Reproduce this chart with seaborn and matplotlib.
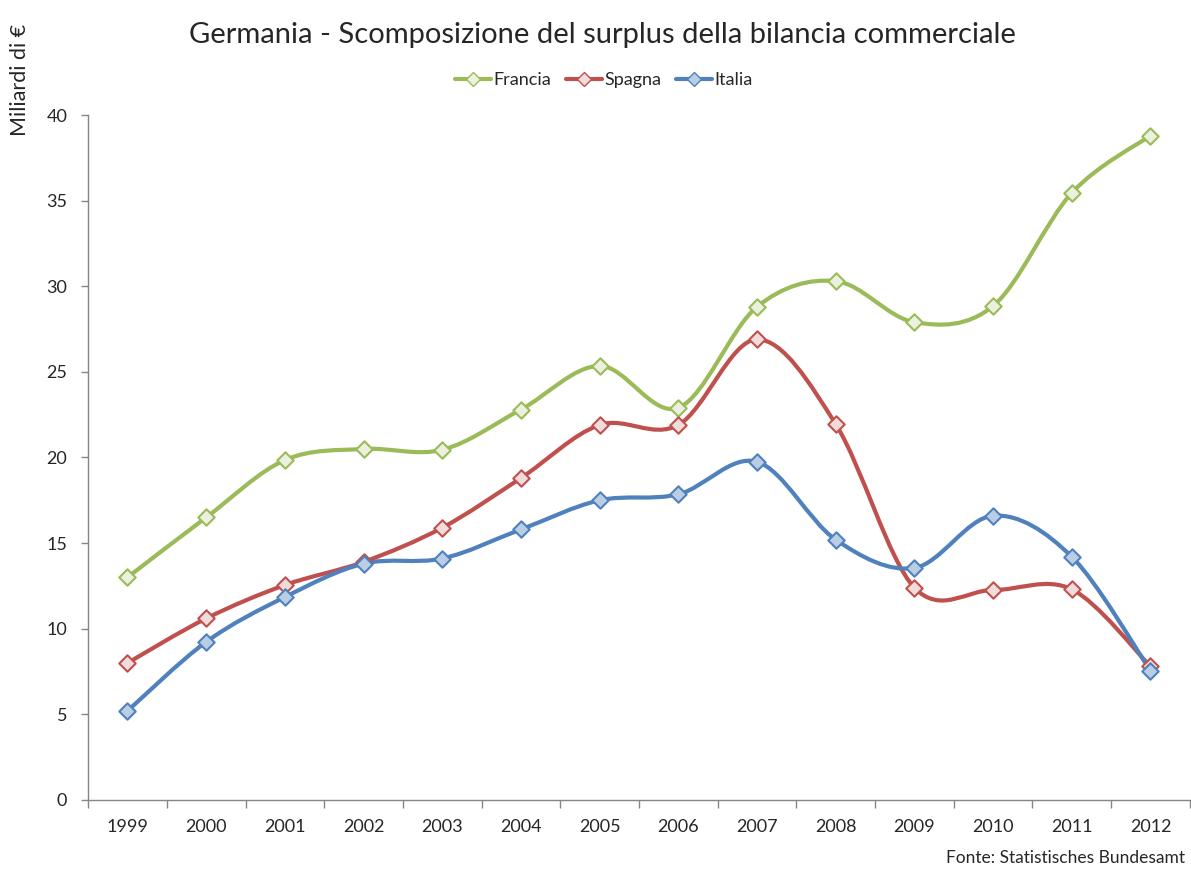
import numpy as np
import pandas as pd
import matplotlib
matplotlib.use("Agg")
import matplotlib.pyplot as plt
from matplotlib.path import Path
from matplotlib.patches import PathPatch
from matplotlib.lines import Line2D
import seaborn as sns

years = [str(y) for y in range(1999, 2013)]
francia = [13.0, 16.5, 19.85, 20.5, 20.45, 22.8, 25.35, 22.9, 28.8, 30.3, 27.9, 28.85, 35.45, 38.8]
spagna = [8.0, 10.6, 12.55, 13.9, 15.9, 18.8, 21.9, 21.9, 26.9, 21.95, 12.4, 12.26, 12.3, 7.8]
italia = [5.2, 9.23, 11.85, 13.8, 14.1, 15.8, 17.5, 17.85, 19.75, 15.2, 13.55, 16.6, 14.2, 7.55]

series = {"Francia": francia, "Spagna": spagna, "Italia": italia}
line_colors = {"Francia": "#9BBB59", "Spagna": "#C0504D", "Italia": "#4F81BD"}
face_colors = {"Francia": "#EBF1DE", "Spagna": "#F2DCDB", "Italia": "#B9CDE5"}

df = pd.DataFrame({"anno": years, **series})
df["pos"] = np.arange(len(years))
long = df.melt(id_vars=["anno", "pos"], var_name="paese", value_name="valore")

sns.set_style("white")
plt.rcParams["font.family"] = ["Lato", "DejaVu Sans"]

fig = plt.figure(figsize=(11.91, 8.72), dpi=100)
ax = fig.add_axes([0.074, 0.0826, 0.925, 0.7855])


def smooth_path(x, y):
    # Excel-style smoothed line: cubic Bezier with Catmull-Rom control points
    pts = np.column_stack([x, y]).astype(float)
    n = len(pts)
    verts = [pts[0]]
    codes = [Path.MOVETO]
    for i in range(n - 1):
        p0 = pts[i - 1] if i > 0 else pts[i]
        p1 = pts[i]
        p2 = pts[i + 1]
        p3 = pts[i + 2] if i + 2 < n else pts[i + 1]
        c1 = p1 + (p2 - p0) / 6.0
        c2 = p2 - (p3 - p1) / 6.0
        verts += [c1, c2, p2]
        codes += [Path.CURVE4] * 3
    return Path(verts, codes)


for name in series:
    sub = long[long["paese"] == name]
    ax.add_patch(PathPatch(smooth_path(sub["pos"], sub["valore"]), facecolor="none",
                           edgecolor=line_colors[name], lw=3.0, zorder=2,
                           capstyle="round", joinstyle="round"))
    sns.scatterplot(data=sub, x="pos", y="valore", ax=ax, marker="D", s=70,
                    color=face_colors[name], edgecolor=line_colors[name],
                    linewidth=1.5, zorder=3, legend=False)

ax.set_xlim(-0.5, len(years) - 0.5)
ax.set_ylim(0, 40)
ax.set_yticks(np.arange(0, 41, 5))
ax.set_xticks(np.arange(-0.5, len(years), 1.0))
ax.set_xticklabels([])
ax.set_xticks(np.arange(len(years)), minor=True)
ax.set_xticklabels(years, minor=True)
ax.tick_params(axis="x", which="major", bottom=True, direction="out", length=6, width=1,
               color="#868686")
ax.tick_params(axis="x", which="minor", bottom=False, length=0, pad=14, labelsize=13)
ax.tick_params(axis="y", left=True, direction="out", length=5, width=1, color="#868686",
               labelsize=13, pad=10)
for s in ["top", "right"]:
    ax.spines[s].set_visible(False)
for s in ["left", "bottom"]:
    ax.spines[s].set_color("#868686")
    ax.spines[s].set_linewidth(1)
ax.set_xlabel("")
ax.set_ylabel("")

fig.text(0.017, 0.908, "Miliardi di €", rotation=90, fontsize=15.5, ha="center", va="center")
fig.text(0.506, 0.96, "Germania - Scomposizione del surplus della bilancia commerciale",
         fontsize=21, ha="center", va="center")
fig.text(0.995, 0.016, "Fonte: Statistisches Bundesamt", fontsize=12.5, ha="right", va="center")

handles = [Line2D([0], [0], color=line_colors[n], lw=3, marker="D", markersize=7,
                  markerfacecolor=face_colors[n], markeredgecolor=line_colors[n],
                  markeredgewidth=1) for n in series]
fig.legend(handles, list(series), loc="center", bbox_to_anchor=(0.507, 0.908), ncol=3,
           frameon=False, fontsize=13, handlelength=2.0, handletextpad=0.15,
           columnspacing=0.8)

fig.savefig("out.png", dpi=100)
